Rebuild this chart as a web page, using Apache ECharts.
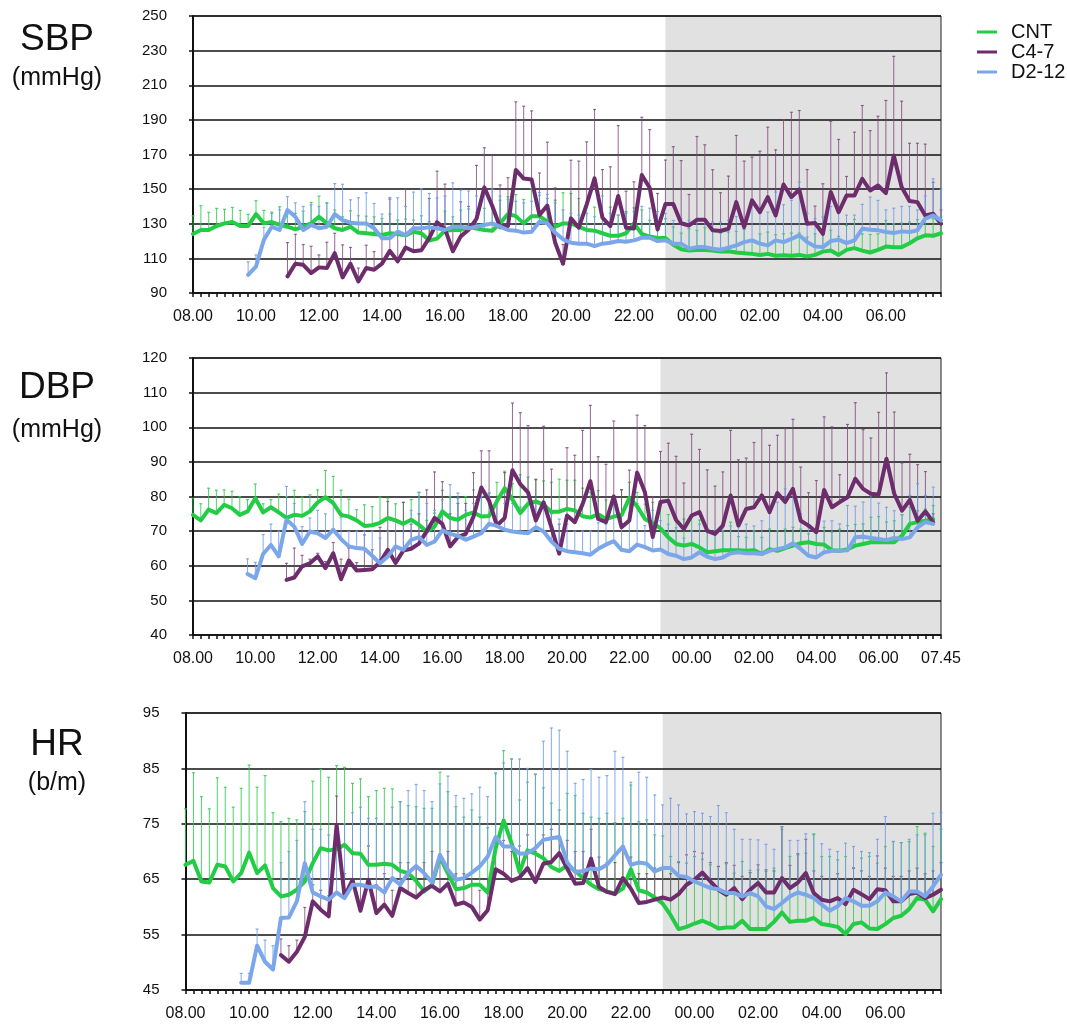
<!DOCTYPE html>
<html>
<head>
<meta charset="utf-8">
<script src="https://cdn.jsdelivr.net/npm/echarts@6/dist/echarts.min.js"></script>
<style>html,body{margin:0;padding:0;background:#fff;}#c{width:1067px;height:1025px;}</style>
</head>
<body>
<div id="c"></div>
<script>
// ---------- categories (15-min steps, 08.00 -> 07.45) ----------
const times = [];
for (let k = 0; k < 96; k++) {
  const h = (8 + Math.floor(k / 4)) % 24, m = (k % 4) * 15;
  times.push(String(h).padStart(2, '0') + '.' + String(m).padStart(2, '0'));
}
const dbpTimes = times.concat(['07.45']);
const nightStart = '23.00';
const seriesNames = ['CNT', 'C4-7', 'D2-12'];
const panelTitles = ['SBP', 'DBP', 'HR'];
const panelUnits = ['(mmHg)', '(mmHg)', '(b/m)'];
const sbpTicks = [90, 250, 20];
const dbpTicks = [40, 120, 10];
const hrTicks = [45, 95, 10];
const pad = n => Array(n).fill(null);

// ---------- SBP ----------
const sbpCnt = [124.1,126.4,126.4,128.7,130.2,131.0,128.7,128.7,135.6,130.2,131.0,129.3,
128.3,126.8,128.3,130.2,134.0,130.2,127.4,126.4,128.3,124.9,124.5,124.1,
123.5,124.5,124.1,123.3,125.4,124.5,120.3,121.4,126.0,126.4,126.4,128.3,
127.2,126.4,126.0,130.2,135.6,134.4,130.2,134.4,134.4,131.2,128.3,130.2,
130.2,128.3,126.4,126.0,124.5,123.0,123.0,124.5,130.2,124.1,122.6,121.8,
121.8,117.8,115.3,114.5,114.9,114.9,114.5,113.9,114.1,113.4,113.0,112.6,
112.0,112.6,111.5,111.8,111.5,112.0,111.1,112.0,113.9,114.5,112.0,114.9,
115.9,114.5,113.4,114.9,116.8,116.4,116.4,118.7,121.6,123.3,123.0,124.5];
const sbpCntUp = [134.6,140.4,136.6,138.9,138.3,139.4,137.7,135.4,143.3,137.7,136.7,139.8,
135.6,136.0,137.3,142.3,145.9,142.1,137.9,134.0,137.5,134.6,134.4,134.0,
133.1,135.6,132.1,132.7,132.1,134.6,131.2,131.2,137.3,134.0,137.9,138.5,
136.6,138.9,140.2,143.6,145.6,146.9,144.0,150.3,146.5,144.6,143.6,147.9,
147.5,144.6,140.2,139.6,135.0,139.6,135.0,137.0,139.2,138.0,132.0,130.0,
132.9,128.1,124.6,127.1,126.2,127.7,126.2,124.6,125.2,125.6,126.7,120.4,
124.2,125.2,123.7,124.2,124.6,124.6,122.3,124.2,124.2,126.2,122.7,129.0,
132.5,124.2,123.8,124.2,131.9,130.0,130.4,131.0,132.3,134.2,132.9,134.0];
const sbpC47 = pad(12).concat([99.6,106.9,106.3,101.5,104.8,104.4,113.0,99.0,106.9,96.7,104.4,103.4,
107.0,114.3,108.3,116.3,114.1,114.7,121.7,130.9,127.0,114.1,122.7,126.5,
132.8,151.0,140.4,128.0,128.7,161.1,156.1,155.6,135.1,140.5,119.0,106.9,
133.1,127.7,141.2,156.2,133.5,128.7,146.0,127.7,127.3,158.1,150.8,126.7,
141.4,141.4,130.3,129.0,132.3,132.3,126.2,125.8,127.1,142.5,128.1,143.5,
136.7,145.4,134.8,152.7,145.4,149.8,130.0,130.4,124.2,148.3,136.7,146.3,
146.3,156.0,149.2,152.1,147.7,169.4,151.2,143.1,142.5,134.8,135.8,130.0]);
const sbpC47Up = pad(12).concat([119.1,123.9,118.0,117.0,112.0,119.3,124.5,117.8,116.3,104.4,117.6,113.9,
122.0,144.3,125.0,150.0,128.0,130.0,144.6,160.4,152.9,128.0,142.7,140.0,
163.7,173.9,169.5,152.4,156.6,200.4,197.9,195.2,159.3,177.1,150.7,118.0,
166.7,166.2,177.3,196.0,161.3,162.9,186.7,148.8,154.2,191.5,184.4,147.5,
166.8,174.5,166.5,146.9,180.4,175.6,161.2,147.9,157.5,181.0,166.2,168.5,
171.9,185.8,172.7,190.0,194.4,195.4,161.3,140.2,153.1,189.2,178.7,157.3,
182.9,198.3,183.8,192.1,201.2,226.7,200.8,176.5,176.5,176.0,154.0,138.0]);
const sbpD212 = pad(7).concat([100.5,105.3,120.7,128.3,126.4,
137.9,134.0,126.4,129.3,127.4,128.3,135.6,132.1,130.6,130.2,130.2,127.4,
121.6,121.6,125.4,123.5,127.4,127.4,127.9,127.4,126.4,128.3,128.3,127.4,
128.3,129.3,130.2,128.3,126.4,126.0,124.9,125.4,131.2,130.2,124.8,121.0,
119.0,118.5,118.5,117.1,118.5,119.0,120.0,119.6,120.4,121.9,121.9,120.0,
120.4,118.5,118.5,115.6,116.5,116.5,115.6,115.0,116.2,117.5,119.4,120.4,
118.5,117.5,120.4,119.4,121.3,123.3,119.4,116.9,116.5,120.0,120.8,118.8,
120.4,127.1,126.5,126.2,125.2,124.6,125.6,125.2,126.2,132.9,134.8,131.9]);
const sbpD212Up = pad(7).concat([108,112,128,136,138,
145.6,142.1,140,141,140,142,153.2,152.8,143.8,145,147.9,141.7,
135.6,145.2,145,140,148.3,150.3,147.5,145,146,153.6,149.4,148.9,
146,148,150,146,144,143,142,143,148,147,142,138,
136,135,136,134,146,136,135,136,137,140,139,137,
136,131.9,133,132,133,132,131,131,132,134.2,127,141.5,
135.8,136.7,148.3,141,143.5,154,136,133,134,140,139,135,
135,141.2,145.4,143.5,138,139,140,140,138,146,156,150]);

// ---------- DBP ----------
const dbpCnt = [74.7,73.1,76.2,75.2,77.6,76.6,74.7,75.7,79.5,75.4,76.9,75.4,
73.8,74.7,74.4,75.7,78.3,79.8,78.1,74.7,74.2,73.1,71.5,71.7,
72.4,73.8,73.1,72.1,73.3,71.8,69.9,71.3,75.7,73.8,73.3,74.7,
75.4,74.2,74.4,78.6,82.4,79.1,75.2,77.9,78.6,77.6,75.6,75.6,
76.4,76.0,74.3,73.9,74.9,73.5,74.2,74.6,79.6,77.2,73.5,72.3,
70.8,68.2,66.3,65.8,66.3,65.3,63.9,64.2,64.5,64.5,64.5,64.3,
64.5,63.4,64.8,64.3,65.1,65.8,66.5,66.8,66.3,66.1,64.5,64.3,
64.8,65.8,66.3,66.8,66.8,66.8,66.8,68.7,72.1,72.6,73.0,73.5];
const dbpCntUp = [79.5,77.9,82.4,81.8,81.9,81.5,80.0,79.1,83.6,77.9,79.1,80.7,
80.0,81.8,79.8,80.5,81.9,87.5,85.8,81.8,79.2,76.2,77.6,77.1,
79.8,79.5,77.9,78.3,79.1,81.2,73.1,75.2,81.8,80.0,79.5,80.0,
81.9,81.5,81.0,84.1,87.3,83.7,86.3,85.6,84.8,84.5,84.1,85.0,
84.7,84.7,82.4,81.2,81.7,79.0,79.3,81.9,84.1,81.2,77.8,78.3,
77.4,74.8,74.0,73.5,74.0,73.2,70.1,70.1,70.1,72.6,68.4,68.2,
70.1,68.2,70.6,70.1,70.6,71.1,70.6,69.2,69.7,71.1,69.7,70.6,
71.6,71.9,72.1,74.0,74.2,72.6,73.0,74.8,76.9,75.9,76.4,77.4];
const dbpC47 = pad(12).concat([55.9,56.6,59.8,60.7,62.7,59.3,63.6,56.1,61.5,58.6,58.8,59.0,
61.0,64.6,60.8,64.4,64.9,66.4,70.0,73.8,72.1,65.6,68.3,69.2,
74.2,82.6,78.8,71.6,73.8,87.6,83.6,81.2,73.1,78.3,71.1,63.5,
74.5,72.6,77.8,84.4,73.5,72.6,80.0,71.1,73.1,86.9,81.2,68.3,
78.4,78.8,73.2,70.6,74.5,75.5,70.1,69.2,71.6,80.3,71.6,76.4,
76.9,80.3,75.5,81.0,78.4,82.2,73.0,71.6,69.7,81.9,76.9,78.4,
79.8,85.1,82.2,80.8,80.6,90.9,80.8,75.9,79.0,73.0,75.7,72.6]);
const dbpC47Up = pad(12).concat([60.7,65.1,63.0,61.9,63.6,61.2,66.7,61.9,65.1,60.9,68.9,64.6,
71.1,78.6,70.0,78.3,72.0,75.0,81.9,87.1,84.3,75.0,78.0,78.0,
86.9,93.2,93.2,80.0,86.9,107.0,104.2,100.5,85.0,100.3,87.9,72.0,
94.1,91.9,99.1,106.3,91.5,89.3,101.8,82.0,87.6,103.5,100.5,80.0,
93.0,95.4,91.6,83.9,98.0,93.6,87.7,83.0,87.1,99.1,90.6,91.1,
95.6,99.6,94.8,97.7,99.6,102.3,88.5,81.1,84.6,103.0,100.1,86.3,
100.8,107.1,99.3,96.9,104.3,115.7,104.4,89.7,92.2,89.2,87.2,75.0]);
const dbpD212 = pad(7).concat([57.6,56.4,63.4,66.0,62.7,
73.3,71.3,66.3,69.9,69.4,68.0,70.4,67.7,65.6,65.1,64.9,62.9,
60.7,62.7,65.6,64.6,67.5,68.3,66.0,67.0,70.2,69.2,68.6,67.5,
68.4,69.4,72.1,71.5,70.4,69.9,69.6,69.4,71.1,69.9,67.0,64.9,
64.2,63.9,63.6,63.2,64.9,66.1,67.1,64.6,64.2,66.1,65.4,64.4,
64.7,63.4,62.9,61.9,62.4,63.9,62.6,61.9,62.4,63.6,63.9,63.6,
63.6,63.4,64.3,64.8,65.3,66.5,64.8,62.9,62.4,63.9,64.3,64.3,
64.5,68.2,68.4,68.0,67.7,67.4,68.0,67.7,68.2,71.1,72.6,72.1]);
const dbpD212Up = pad(7).concat([62,61,69,72,70,
82.9,78,71.3,73.8,76,75,78.1,74,69.9,70,70,70,
68,70,73,72,76,81.2,78,76,79,83.4,81,76,
78,80,81,79,78,78,77,78,78,77,75,73.5,
72,70,70,70,72.4,72,78,72.1,75.2,78,71.6,76,
73,72,71,68,70,72,70,70,71.5,71.5,71.5,72,
71.5,73,75.5,78.4,82.2,82.2,75,71,70,72.9,73,72.1,
77.4,77.2,78.4,80.3,78.1,76.9,75.9,74.7,80.3,83.7,80.3,82.7]);

// ---------- HR ----------
const hrCnt = [67.6,68.3,64.6,64.4,67.6,67.3,64.6,66.1,69.8,66.1,67.5,63.4,
61.9,62.2,63.1,64.6,67.9,70.6,70.2,70.4,71.2,69.7,69.6,67.6,
67.6,67.8,67.6,66.5,66.1,64.7,62.8,64.0,69.0,66.0,63.2,63.4,
64.0,64.0,62.6,70.6,75.6,71.5,66.3,70.2,69.6,68.8,67.2,66.5,
67.5,66.5,65.2,64.0,63.2,62.8,62.4,63.3,66.8,63.0,62.6,61.7,
60.6,58.5,56.0,56.4,57.0,57.5,56.9,56.1,56.3,56.3,57.5,56.0,
56.0,56.0,57.3,59.0,57.3,57.5,57.5,58.0,56.9,56.7,56.4,55.1,
56.9,57.2,56.1,56.0,56.9,58.0,58.4,59.6,61.6,61.3,59.2,61.4];
const hrCntUp = [77.7,84.2,79.9,77.7,83.3,81.6,78.0,81.4,85.6,81.6,83.7,77.0,
75.4,76.0,75.7,77.2,82.7,84.8,83.4,85.5,85.2,82.3,83.1,79.9,
81.0,81.4,81.3,79.0,78.3,78.1,77.8,77.8,84.3,80.8,78.1,76.2,
77.5,76.2,74.3,84.2,88.2,86.7,79.3,82.5,83.9,81.5,78.7,77.5,
80.5,80.1,76.9,76.2,76.0,76.9,75.2,76.0,82.0,75.4,75.7,73.0,
72.8,69.1,68.2,67.9,69.1,68.6,67.6,67.3,67.8,66.1,68.2,66.6,
66.7,66.4,67.0,74.0,69.1,69.4,69.7,73.2,69.1,69.1,68.5,69.1,
67.0,68.8,69.1,67.9,70.9,71.8,71.6,71.8,74.5,73.3,70.9,74.0];
const hrC47 = pad(12).concat([51.3,50.1,51.9,54.6,61.0,59.5,58.3,74.8,61.9,64.9,59.3,64.9,
58.9,60.4,58.4,63.4,62.5,61.7,63.0,63.8,62.8,64.2,60.4,60.8,
60.0,57.7,59.4,66.8,66.0,64.7,65.3,67.0,64.5,67.8,68.1,69.7,
66.9,64.2,64.3,68.7,63.6,62.7,62.3,65.2,63.3,60.7,60.9,61.3,
61.7,61.3,62.3,64.0,64.9,66.2,64.6,63.1,62.2,63.4,61.4,63.1,
64.3,62.6,62.6,65.2,63.4,64.4,66.1,62.5,61.3,61.0,61.6,60.5,
63.1,62.3,61.4,63.2,63.0,61.0,61.0,62.3,62.6,61.6,62.2,63.1]);
const hrC47Up = pad(12).concat([54.2,53,54,59.9,64,63,62,80,66,70,64,71,
64,66,63,68,68,67,68,70,68,70,66,66,
65,63,65,72,72,70,71,73,70,73,74,75,
72,70,70,74,69,68,68,71,69,66,66,67,
67,66,68,69.4,70,69.7,68,67.3,68,67.5,65.5,66.2,
67.6,66.7,66.5,74.5,67.5,69.6,72.2,66.5,65.5,65,66,65,
67,66.5,65.5,69.2,67,65.5,65.5,66.5,67,66,66.5,68]);
const hrD212 = pad(7).concat([46.3,46.3,53.0,50.1,48.7,
58.0,58.1,61.0,67.9,62.6,61.9,61.3,62.6,61.6,64.0,64.0,63.6,
63.7,62.6,65.2,64.0,66.1,67.4,66.1,64.4,69.4,66.7,64.9,65.2,
66.2,67.3,69.1,72.6,70.9,70.9,69.6,69.7,70.6,72.1,72.4,72.6,
68.0,66.3,66.5,66.9,66.8,67.6,69.3,70.9,67.6,68.0,67.8,66.4,
67.0,67.0,65.6,65.4,64.6,64.0,63.4,63.2,62.5,62.5,61.9,62.5,
61.9,60.1,59.6,60.7,61.9,62.6,62.2,61.6,60.4,59.3,60.1,61.6,
61.0,60.2,60.2,61.0,62.6,61.9,61.0,62.8,62.8,61.9,63.7,65.8]);
const hrD212Up = pad(7).concat([48,48,56,54,53,
68,70,72,79,74,74,73,74,75,77,78,76,
76,75,78,79,81,82.1,81,79,82.2,83.6,80.1,79.6,
80.4,81.6,79.9,84,86,86.7,86.7,85,84,89.9,92.3,91.9,
88.1,82.3,83,84.8,83.4,83.7,88.1,87,82.5,84.3,83.4,80.2,
78.4,79.6,78.4,76.8,77.2,76.9,76.3,78.3,77,74,72.2,72.2,
72.1,71.3,70.4,74.5,72,72,73.2,73,71.4,70.4,70,71.5,
70.9,70,69.8,72.2,76.3,71.8,71.6,72.2,73,73,76.9,77]);

// ---------- styling ----------
const fontFamily = 'Liberation Sans, Arial, Helvetica, sans-serif';
const lineColors = ['#22cc44', '#6d2c6b', '#7ba7ea'];
const barColors = ['rgba(45,205,75,0.85)', 'rgba(125,65,122,0.8)', 'rgba(110,155,232,0.85)'];

const panels = [
  { cats: times, ticks: sbpTicks, grid: { left: 193, top: 16, right: 126, height: 277 }, lastLabel: false, titleY: 40, unitY: 78,
    data: [[sbpCnt, sbpCntUp], [sbpC47, sbpC47Up], [sbpD212, sbpD212Up]] },
  { cats: dbpTimes, ticks: dbpTicks, grid: { left: 193, top: 358, right: 126, height: 277 }, lastLabel: true, titleY: 388, unitY: 430,
    data: [[dbpCnt, dbpCntUp], [dbpC47, dbpC47Up], [dbpD212, dbpD212Up]] },
  { cats: times, ticks: hrTicks, grid: { left: 185.5, top: 713, right: 126, height: 277 }, lastLabel: false, titleY: 745, unitY: 783,
    data: [[hrCnt, hrCntUp], [hrC47, hrC47Up], [hrD212, hrD212Up]] }
];

function errData(mean, up) {
  const out = [];
  for (let i = 0; i < mean.length; i++) {
    if (mean[i] != null && up[i] != null) out.push([i, mean[i], up[i]]);
  }
  return out;
}
function makeErr(color) {
  return function (params, api) {
    const p0 = api.coord([api.value(0), api.value(1)]);
    const p1 = api.coord([api.value(0), api.value(2)]);
    return { type: 'group', children: [
      { type: 'line', shape: { x1: p0[0], y1: p0[1], x2: p1[0], y2: p1[1] }, style: { stroke: color, lineWidth: 1 } },
      { type: 'line', shape: { x1: p1[0] - 1.5, y1: p1[1], x2: p1[0] + 1.5, y2: p1[1] }, style: { stroke: color, lineWidth: 1.2 } }
    ] };
  };
}
function shadeRender(params, api) {
  const cs = params.coordSys;
  const x0 = api.coord([api.value(0), api.value(1)])[0];
  return { type: 'rect', shape: { x: x0, y: cs.y, width: cs.x + cs.width - x0, height: cs.height }, style: { fill: '#e1e1e1' } };
}

const series = [];
panels.forEach((p, gi) => {
  series.push({ type: 'custom', name: 'night', xAxisIndex: gi, yAxisIndex: gi, z: 0, silent: true,
    renderItem: shadeRender, encode: { x: 0, y: 1 }, data: [[p.cats.indexOf(nightStart), p.ticks[0]]] });
  p.data.forEach((d, k) => {
    series.push({ type: 'custom', name: seriesNames[k] + ' SD', xAxisIndex: gi, yAxisIndex: gi, z: 2, silent: true,
      renderItem: makeErr(barColors[k]), encode: { x: 0, y: [1, 2] }, data: errData(d[0], d[1]) });
  });
  p.data.forEach((d, k) => {
    series.push({ type: 'line', name: seriesNames[k], xAxisIndex: gi, yAxisIndex: gi, z: 3 + k, silent: true,
      data: d[0], showSymbol: false, symbol: 'none', connectNulls: false,
      lineStyle: { width: 4, color: lineColors[k], cap: 'round', join: 'round' }, itemStyle: { color: lineColors[k] } });
  });
});

const option = {
  animation: false,
  backgroundColor: '#ffffff',
  textStyle: { fontFamily },
  grid: panels.map(p => Object.assign({ show: true, borderColor: '#222', borderWidth: 1, backgroundColor: 'transparent', z: 1 }, p.grid)),
  xAxis: panels.map((p, gi) => ({
    type: 'category', gridIndex: gi, data: p.cats, boundaryGap: false, z: 1,
    axisLine: { show: true, lineStyle: { color: '#111', width: 1.5 } },
    axisTick: { show: true, interval: 0, length: 4, lineStyle: { color: '#111', width: 1.5 } },
    axisLabel: { interval: (i) => i % 8 === 0 || (p.lastLabel && i === p.cats.length - 1), margin: 16, fontSize: 16, color: '#111', fontFamily },
    splitLine: { show: false }
  })),
  yAxis: panels.map((p, gi) => ({
    type: 'value', gridIndex: gi, min: p.ticks[0], max: p.ticks[1], interval: p.ticks[2], z: 1,
    axisLine: { show: true, lineStyle: { color: '#111', width: 2 } },
    axisTick: { show: true, length: 4, lineStyle: { color: '#111', width: 1.5 } },
    axisLabel: { fontSize: 15, color: '#111', margin: 26, fontFamily },
    splitLine: { show: true, lineStyle: { color: '#111', width: 1.5 } }
  })),
  legend: {
    data: seriesNames, orient: 'vertical', left: 972, top: 17, itemWidth: 20, itemHeight: 3, itemGap: 0,
    icon: 'rect', selectedMode: false,
    textStyle: { fontSize: 20, lineHeight: 20, color: '#111', fontFamily, padding: [0, 0, 0, 9] }
  },
  graphic: panels.flatMap((p, gi) => [
    { type: 'text', x: 57, y: p.titleY, silent: true,
      style: { text: panelTitles[gi], fontSize: 37, fontFamily, fill: '#111', align: 'center', verticalAlign: 'middle' } },
    { type: 'text', x: 57, y: p.unitY, silent: true,
      style: { text: panelUnits[gi], fontSize: 25, fontFamily, fill: '#111', align: 'center', verticalAlign: 'middle' } }
  ]),
  series
};

const chart = echarts.init(document.getElementById('c'), null, { renderer: 'canvas', width: 1067, height: 1025 });
chart.setOption(option);
</script>
</body>
</html>
